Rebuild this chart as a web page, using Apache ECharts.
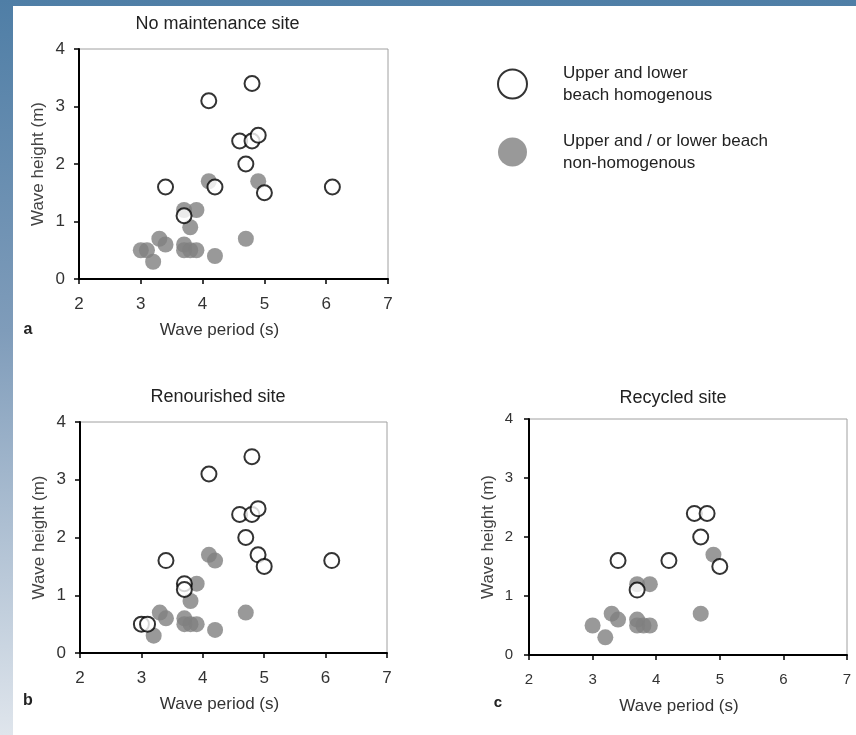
<!DOCTYPE html>
<html>
<head>
<meta charset="utf-8">
<script src="https://cdn.jsdelivr.net/npm/echarts@6/dist/echarts.min.js"></script>
<style>
  html, body { margin: 0; padding: 0; }
  #frame {
    position: relative; width: 856px; height: 735px; overflow: hidden;
    background: linear-gradient(to bottom, #4f7ea6 0%, #7f9cba 45%, #dfe5ec 100%);
  }
  #chart {
    position: absolute; left: 13px; top: 6px; width: 843px; height: 729px;
    background: #ffffff;
  }
</style>
</head>
<body>
<div id="frame"><div id="chart"></div></div>
<script>
// Wave period (s), wave height (m) pairs for each site and beach condition
const HOMOG = 'Upper and lower\nbeach homogenous';
const NONHOMOG = 'Upper and / or lower beach\nnon-homogenous';

const noMaintHomog = [[4.1,3.1],[4.8,3.4],[4.6,2.4],[4.8,2.4],[4.9,2.5],[4.7,2.0],[3.4,1.6],[4.2,1.6],[5.0,1.5],[6.1,1.6],[3.7,1.1]];
const noMaintNonHomog = [[3.0,0.5],[3.1,0.5],[3.2,0.3],[3.3,0.7],[3.4,0.6],[3.7,1.2],[3.9,1.2],[3.8,0.9],[3.7,0.6],[3.7,0.5],[3.8,0.5],[3.9,0.5],[4.2,0.4],[4.1,1.7],[4.7,0.7],[4.9,1.7]];

const renourHomog = [[4.1,3.1],[4.8,3.4],[4.6,2.4],[4.8,2.4],[4.9,2.5],[4.7,2.0],[3.4,1.6],[4.9,1.7],[5.0,1.5],[6.1,1.6],[3.7,1.2],[3.7,1.1],[3.0,0.5],[3.1,0.5]];
const renourNonHomog = [[4.1,1.7],[4.2,1.6],[3.9,1.2],[3.8,0.9],[3.3,0.7],[3.4,0.6],[3.2,0.3],[3.7,0.6],[3.7,0.5],[3.8,0.5],[3.9,0.5],[4.2,0.4],[4.7,0.7]];

const recycHomog = [[3.4,1.6],[4.2,1.6],[4.6,2.4],[4.8,2.4],[4.7,2.0],[5.0,1.5],[3.7,1.1]];
const recycNonHomog = [[3.0,0.5],[3.2,0.3],[3.3,0.7],[3.4,0.6],[3.7,0.6],[3.7,0.5],[3.8,0.5],[3.9,0.5],[3.7,1.2],[3.9,1.2],[4.7,0.7],[4.9,1.7]];

const panelTitles = ['No maintenance site', 'Renourished site', 'Recycled site'];
const panelLetters = ['a', 'b', 'c'];
const xTicks = [2, 3, 4, 5, 6, 7];
const yTicks = [0, 1, 2, 3, 4];

const FONT = "'Liberation Sans', Arial, Helvetica, sans-serif";
const OX = 13, OY = 6; // chart origin inside the page frame

const chart = echarts.init(document.getElementById('chart'), null, { renderer: 'canvas' });

const grids = [
  { left: 79 - OX, top: 49 - OY, width: 309, height: 230 },
  { left: 80 - OX, top: 422 - OY, width: 307, height: 231 },
  { left: 529 - OX, top: 419 - OY, width: 318, height: 236 }
];
const tickFont = [17, 17, 15];
const xNameShift = [28, 28, 18];

function xAxisFor(i) {
  return {
    gridIndex: i, type: 'value',
    min: xTicks[0], max: xTicks[xTicks.length - 1], interval: 1,
    axisLine: { show: true, onZero: false, lineStyle: { color: '#000', width: 2 } },
    axisTick: { show: true, length: 5, lineStyle: { color: '#000', width: 1.5 } },
    splitLine: { show: false },
    axisLabel: { fontFamily: FONT, fontSize: tickFont[i], color: '#333', margin: 17 },
    name: 'Wave period (s)', nameLocation: 'middle', nameGap: i === 2 ? 43 : 43,
    nameTextStyle: { fontFamily: FONT, fontSize: 17, color: '#333', padding: [0, xNameShift[i], 0, 0] }
  };
}
function yAxisFor(i) {
  return {
    gridIndex: i, type: 'value',
    min: yTicks[0], max: yTicks[yTicks.length - 1], interval: 1,
    axisLine: { show: true, onZero: false, lineStyle: { color: '#000', width: 2 } },
    axisTick: { show: true, length: 5, lineStyle: { color: '#000', width: 1.5 } },
    splitLine: { show: false },
    axisLabel: { fontFamily: FONT, fontSize: tickFont[i], color: '#333', margin: i === 2 ? 16 : 14 },
    name: 'Wave height (m)', nameLocation: 'middle', nameGap: 32,
    nameTextStyle: { fontFamily: FONT, fontSize: 17, color: '#444' }
  };
}

const openStyle = { color: '#ffffff', borderColor: '#000000', borderWidth: 2 };
const filledStyle = { color: '#808080', borderWidth: 0 };

const panels = [
  [noMaintNonHomog, noMaintHomog],
  [renourNonHomog, renourHomog],
  [recycNonHomog, recycHomog]
];

const series = [];
panels.forEach(function (p, i) {
  series.push({
    name: NONHOMOG, type: 'scatter', xAxisIndex: i, yAxisIndex: i,
    symbol: 'circle', symbolSize: 16, itemStyle: filledStyle, data: p[0], z: 2
  });
  series.push({
    name: HOMOG, type: 'scatter', xAxisIndex: i, yAxisIndex: i,
    symbol: 'circle', symbolSize: 15, itemStyle: openStyle, data: p[1], z: 3
  });
});

const titleCenters = [[217.5, 24], [218, 397], [673, 398]];
const letterPos = [[28, 330], [28, 701], [498, 703]];

const titles = [];
panelTitles.forEach(function (t, i) {
  titles.push({
    text: t, left: titleCenters[i][0] - OX, top: titleCenters[i][1] - OY - 10,
    textAlign: 'center', padding: 0,
    textStyle: { fontFamily: FONT, fontSize: 18, fontWeight: 'normal', color: '#222', lineHeight: 20 }
  });
});
panelLetters.forEach(function (t, i) {
  titles.push({
    text: t, left: letterPos[i][0] - OX, top: letterPos[i][1] - OY - 9,
    textAlign: 'center', padding: 0,
    textStyle: { fontFamily: FONT, fontSize: i === 2 ? 15 : 16, fontWeight: 'bold', color: '#222', lineHeight: 18 }
  });
});

chart.setOption({
  animation: false,
  backgroundColor: '#ffffff',
  title: titles,
  grid: grids.map(function (g) {
    return Object.assign({ show: true, borderColor: '#a0a0a0', borderWidth: 1, backgroundColor: 'transparent' }, g);
  }),
  xAxis: [0, 1, 2].map(xAxisFor),
  yAxis: [0, 1, 2].map(yAxisFor),
  legend: {
    orient: 'vertical', left: 497 - OX, top: 62 - OY, padding: 0,
    itemWidth: 31, itemHeight: 29, itemGap: 24,
    data: [
      { name: HOMOG, icon: 'circle', itemStyle: { color: '#fff', borderColor: '#000', borderWidth: 2 } },
      { name: NONHOMOG, icon: 'circle', itemStyle: { color: '#808080', borderWidth: 0 } }
    ],
    selectedMode: false,
    textStyle: { fontFamily: FONT, fontSize: 17, color: '#222', lineHeight: 22, padding: [0, 0, 0, 30] }
  },
  series: series
});
</script>
</body>
</html>
